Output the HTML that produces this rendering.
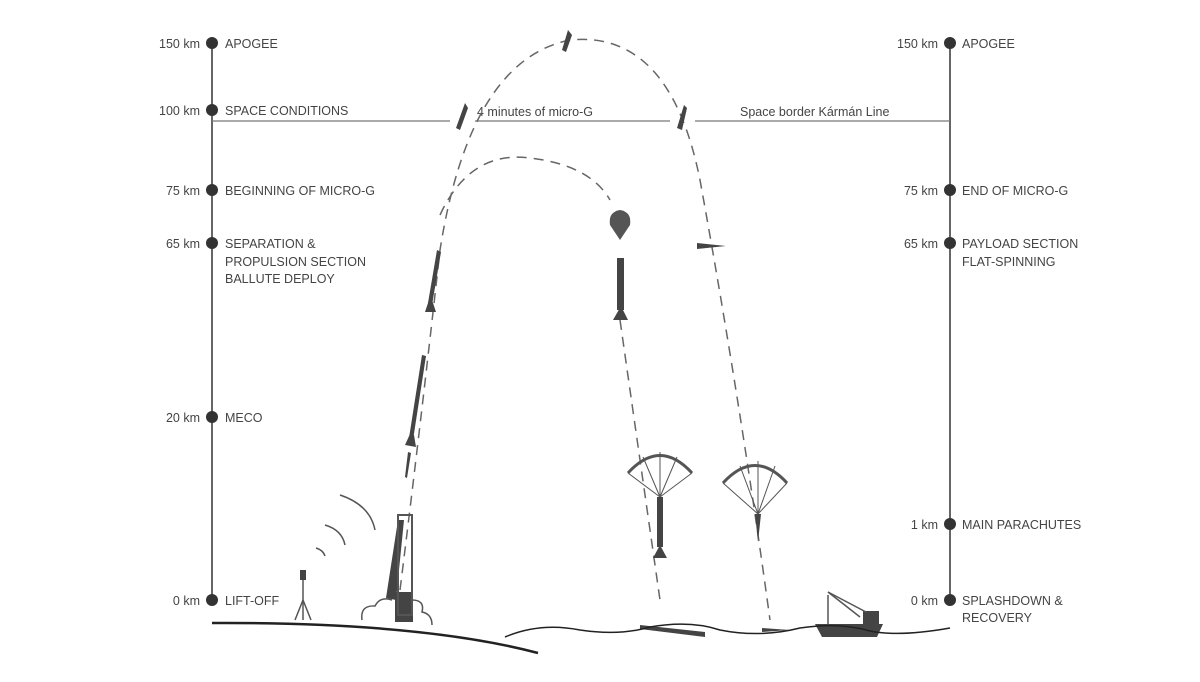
<!DOCTYPE html>
<html><head><meta charset="utf-8"><style>
body{margin:0;background:#fff}
svg text{font-family:"Liberation Sans",sans-serif;font-size:12.5px;fill:#444}
</style></head><body>
<svg width="1200" height="677" viewBox="0 0 1200 677" xmlns="http://www.w3.org/2000/svg">
<g stroke="#333" stroke-width="1.5">
<line x1="212" y1="43" x2="212" y2="600"/>
<line x1="950" y1="43" x2="950" y2="600"/>
</g>
<g stroke="#777" stroke-width="1.2">
<line x1="212" y1="121" x2="450" y2="121"/>
<line x1="475" y1="121" x2="670" y2="121"/>
<line x1="695" y1="121" x2="950" y2="121"/>
</g>
<g fill="#333">
<circle cx="212" cy="43" r="6"/><circle cx="212" cy="110" r="6"/><circle cx="212" cy="190" r="6"/><circle cx="212" cy="243" r="6"/><circle cx="212" cy="417" r="6"/><circle cx="212" cy="600" r="6"/>
<circle cx="950" cy="43" r="6"/><circle cx="950" cy="190" r="6"/><circle cx="950" cy="243" r="6"/><circle cx="950" cy="524" r="6"/><circle cx="950" cy="600" r="6"/>
</g>
<g text-anchor="end">
<text x="200" y="48">150 km</text><text x="200" y="115">100 km</text><text x="200" y="195">75 km</text><text x="200" y="248">65 km</text><text x="200" y="422">20 km</text><text x="200" y="605">0 km</text>
<text x="938" y="48">150 km</text><text x="938" y="195">75 km</text><text x="938" y="248">65 km</text><text x="938" y="529">1 km</text><text x="938" y="605">0 km</text>
</g>
<text x="225" y="48">APOGEE</text><text x="225" y="115">SPACE CONDITIONS</text><text x="225" y="195">BEGINNING OF MICRO-G</text>
<text x="225" y="248">SEPARATION &amp;</text><text x="225" y="266">PROPULSION SECTION</text><text x="225" y="283">BALLUTE DEPLOY</text>
<text x="225" y="422">MECO</text><text x="225" y="605">LIFT-OFF</text>
<text x="962" y="48">APOGEE</text><text x="962" y="195">END OF MICRO-G</text><text x="962" y="248">PAYLOAD SECTION</text><text x="962" y="266">FLAT-SPINNING</text>
<text x="962" y="529">MAIN PARACHUTES</text><text x="962" y="605">SPLASHDOWN &amp;</text><text x="962" y="622">RECOVERY</text>
<text x="477" y="116">4 minutes of micro-G</text><text x="740" y="116">Space border Kármán Line</text>
<g fill="none" stroke="#666" stroke-width="1.5" stroke-dasharray="10,7">
<path d="M400 590 Q420 430 440 250 Q470 60 570 40 Q670 30 700 180 Q740 400 770 620"/>
<path d="M440 215 Q470 150 530 158 Q590 165 610 200"/>
<path d="M620 320 L660 600"/>
</g>
<g fill="#444">
<polygon points="568,30 572,35 566,52 562,50"/>
<polygon points="465,103 468,108 460,130 456,128"/>
<polygon points="684,105 687,108 682,130 677,128"/>
<polygon points="437,250 441,252 432,305 428,303"/>
<polygon points="425,312 436,312 432,300 429,300"/>
<polygon points="422,355 426,356 413,440 409,438"/>
<polygon points="405,445 416,447 414,435 410,434"/>
<polygon points="408,452 411,453 407,478 405,477"/>
<rect x="617" y="258" width="7" height="52"/><polygon points="613,320 628,320 621,306"/>
<path d="M620 210 Q632 212 630 225 L620 240 L610 225 Q608 212 620 210Z" fill="#555"/>
<polygon points="697,243 726,246 697,249"/>
<rect x="657" y="497" width="6" height="50"/><polygon points="653,558 667,558 660,545"/>
<polygon points="755,514 761,514 758,542"/>
<polygon points="398,520 404,520 396,600 386,598"/>
<polygon points="640,625 705,632 705,637 640,629"/>
<polygon points="762,628 790,630 762,632"/>
<polygon points="815,624 883,624 877,637 822,637"/>
<rect x="863" y="611" width="16" height="13"/>
<rect x="395" y="592" width="18" height="30"/><rect x="300" y="570" width="6" height="10"/>
</g>
<rect x="398" y="515" width="14" height="100" fill="none" stroke="#555" stroke-width="2"/>
<g fill="none" stroke="#555" stroke-width="1.5">
<line x1="303" y1="580" x2="303" y2="620"/><line x1="303" y1="600" x2="295" y2="620"/><line x1="303" y1="600" x2="311" y2="620"/>
<path d="M340 495 Q370 505 375 530"/><path d="M325 525 Q342 530 345 545"/><path d="M316 548 Q323 550 325 556"/>
<path d="M362 620 Q360 605 375 606 Q380 596 392 600 M412 600 Q425 600 422 612 Q432 614 432 625"/>
<path d="M660 497 L628 473 M660 497 L643 457 M660 497 L660 452 M660 497 L677 457 M660 497 L692 473" stroke-width="1"/>
<path d="M758 514 L723 483 M758 514 L740 466 M758 514 L758 461 M758 514 L775 466 M758 514 L787 483" stroke-width="1"/>
<line x1="828" y1="595" x2="828" y2="624"/><line x1="828" y1="592" x2="860" y2="617"/><line x1="828" y1="592" x2="866" y2="612"/>
</g>
<g fill="none" stroke="#555" stroke-width="3">
<path d="M628 473 Q660 438 692 473"/><path d="M723 483 Q755 448 787 483"/>
</g>
<g fill="none" stroke="#222" stroke-width="2.5">
<path d="M212 623 Q420 622 538 653"/>
</g>
<path d="M505 637 Q540 622 580 630 Q620 636 650 627 Q690 620 720 630 Q760 638 800 628 Q840 622 870 631 Q900 637 950 628" fill="none" stroke="#222" stroke-width="1.5"/>
</svg>
</body></html>
